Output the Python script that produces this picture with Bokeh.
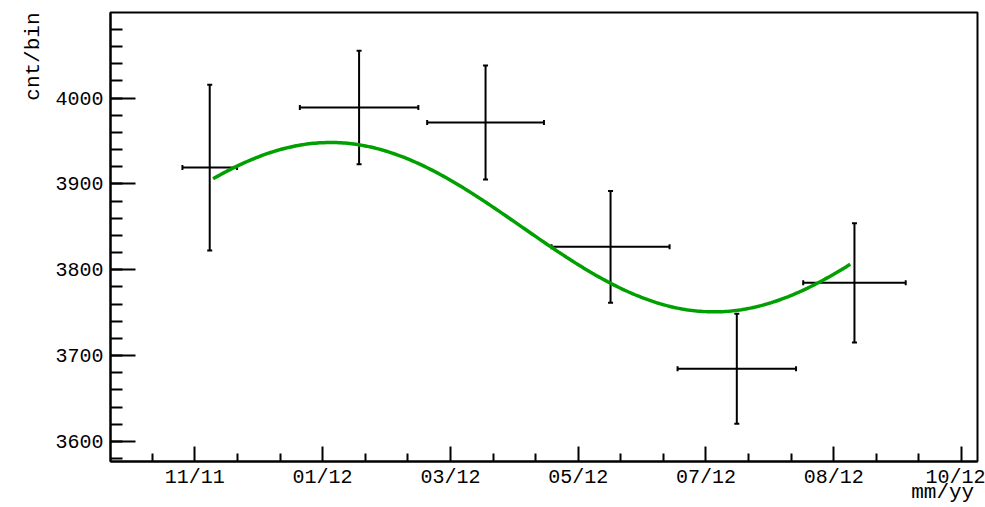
import numpy as np
from bokeh.plotting import figure
from bokeh.models import (ColumnDataSource, Whisker, TeeHead, FixedTicker,
                          CustomJSTickFormatter, Range1d, Title, LinearAxis)
from bokeh.embed import file_html
from bokeh.resources import INLINE

# ---- data (x in days since the first labelled tick) ----
x_days = [7.1, 78.2, 138.4, 197.9, 258.0, 314.0]
x_halfwidth = [13.0, 28.2, 27.8, 28.1, 28.2, 24.4]
counts = [3919, 3989, 3971.5, 3826.7, 3684.7, 3784.8]
count_err = [96.5, 66.0, 66.5, 65.0, 64.0, 69.5]

# fitted annual modulation: offset + amplitude*cos(2*pi*(t - t_max)/period)
fit_offset = 3849.6
fit_amplitude = 98.6
fit_t_max = 64.6
fit_period = 365.0
fit_start = 8.7
fit_end = 312.0

tick_labels = ["11/11", "01/12", "03/12", "05/12", "07/12", "08/12", "10/12"]
tick_step = 365.0 / 6
y_major = [3600, 3700, 3800, 3900, 4000]
y_minor = list(range(3580, 4101, 20))
x_title = "mm/yy"
y_title = "cnt/bin"
x_title_pos = 356.0  # centre of the x title, in axis units

FONT = "Liberation Mono"

p = figure(width=985, height=507, output_backend="svg", toolbar_location=None,
           x_range=Range1d(-40.13, 372.57), y_range=Range1d(3576.7, 4099.6),
           min_border_left=110, min_border_right=8, min_border_top=12,
           min_border_bottom=46)
p.grid.visible = False
p.outline_line_color = "black"
p.outline_line_width = 2
p.background_fill_color = "white"
p.border_fill_color = "white"

# x axis
xt = [i * tick_step for i in range(len(tick_labels))]
xminor = [(i + f / 3.0) * tick_step for i in range(-1, len(tick_labels)) for f in (1, 2)]
p.xaxis.ticker = FixedTicker(ticks=xt, minor_ticks=xminor)
p.xaxis.formatter = CustomJSTickFormatter(
    args=dict(labels=tick_labels, step=tick_step),
    code="const i = Math.round(tick/step); return (i>=0 && i<labels.length) ? labels[i] : '';")
p.yaxis.ticker = FixedTicker(ticks=y_major, minor_ticks=y_minor)

for ax in (p.xaxis[0], p.yaxis[0]):
    ax.axis_line_width = 2
    ax.major_tick_line_width = 2
    ax.minor_tick_line_width = 2
    ax.major_tick_out = 0
    ax.minor_tick_out = 0
    ax.major_label_text_font = FONT
    ax.major_label_text_font_size = "20px"
    ax.major_label_text_color = "black"
    ax.major_label_text_font_style = "normal"

p.xaxis.major_tick_in = 15
p.xaxis.minor_tick_in = 8
p.xaxis.major_label_standoff = 4
p.yaxis.major_tick_in = 25
p.yaxis.minor_tick_in = 12
p.yaxis.major_label_standoff = 7

# x-axis title, right-aligned under the axis
xt_axis = LinearAxis(ticker=FixedTicker(ticks=[x_title_pos], minor_ticks=[]),
                     formatter=CustomJSTickFormatter(args=dict(t=x_title), code="return t;"),
                     axis_line_color=None, major_tick_line_color=None,
                     minor_tick_line_color=None, major_tick_in=0, major_tick_out=0,
                     major_label_standoff=-11, major_label_text_font=FONT,
                     major_label_text_font_size="21px", major_label_text_color="black")
p.add_layout(xt_axis, "below")

# y-axis title, at the top of the axis
p.add_layout(Title(text=y_title, align="right", text_font=FONT, text_font_size="21px",
                   text_font_style="normal", text_color="black", standoff=16), "left")

# data
src = ColumnDataSource(dict(
    x=x_days, y=counts,
    xl=[a - b for a, b in zip(x_days, x_halfwidth)],
    xu=[a + b for a, b in zip(x_days, x_halfwidth)],
    yl=[a - b for a, b in zip(counts, count_err)],
    yu=[a + b for a, b in zip(counts, count_err)],
))

# fit curve
t = np.linspace(fit_start, fit_end, 300)
f = fit_offset + fit_amplitude * np.cos(2 * np.pi * (t - fit_t_max) / fit_period)
p.line(t, f, line_color="#00a000", line_width=3.5)

for dim, base, lo, up in (("height", "x", "yl", "yu"), ("width", "y", "xl", "xu")):
    w = Whisker(source=src, base=base, lower=lo, upper=up, dimension=dim,
                line_color="black", line_width=2,
                lower_head=TeeHead(size=5, line_width=2, line_color="black"),
                upper_head=TeeHead(size=5, line_width=2, line_color="black"))
    p.add_layout(w)

open("out.html", "w").write(file_html(p, INLINE))
